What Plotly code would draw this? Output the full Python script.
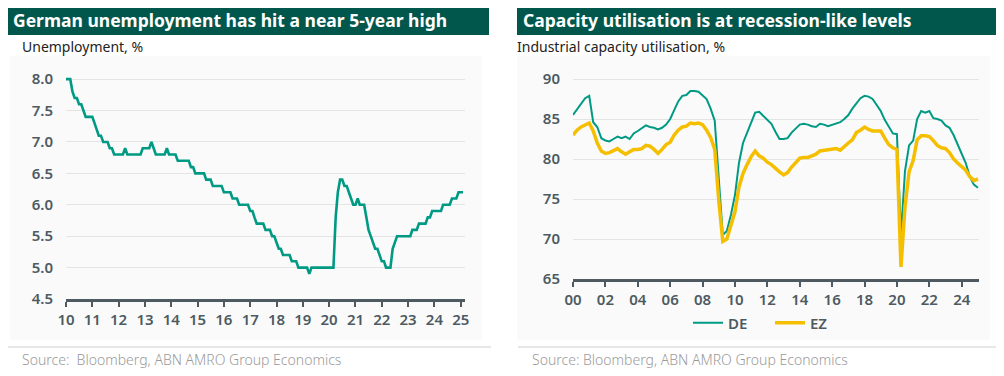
import pandas as pd
import plotly.graph_objects as go

# page body adds an 8px margin, so the figure is drawn 8px in from the window edge
OFF = 8
WIN_W, WIN_H = 1004, 376
W, H = WIN_W - OFF, WIN_H - OFF

# ---------------- data ----------------
unemp_2010 = [8.0, 8.0, 8.0, 7.8, 7.7, 7.7, 7.6, 7.6, 7.5, 7.4, 7.4, 7.4]
unemp_2011 = [7.4, 7.3, 7.2, 7.1, 7.1, 7.0, 7.0, 7.0, 6.9, 6.9, 6.8, 6.8]
unemp_2012 = [6.8, 6.8, 6.8, 6.9, 6.8, 6.8, 6.8, 6.8, 6.8, 6.8, 6.8, 6.9]
unemp_2013 = [6.9, 6.9, 6.9, 7.0, 6.9, 6.8, 6.8, 6.8, 6.8, 6.8, 6.9, 6.8]
unemp_2014 = [6.8, 6.8, 6.8, 6.7, 6.7, 6.7, 6.7, 6.7, 6.7, 6.6, 6.6, 6.5]
unemp_2015 = [6.5, 6.5, 6.5, 6.5, 6.4, 6.4, 6.4, 6.3, 6.3, 6.3, 6.3, 6.3]
unemp_2016 = [6.2, 6.2, 6.2, 6.2, 6.1, 6.1, 6.1, 6.0, 6.0, 6.0, 6.0, 6.0]
unemp_2017 = [5.9, 5.9, 5.8, 5.7, 5.7, 5.7, 5.7, 5.6, 5.6, 5.6, 5.5, 5.5]
unemp_2018 = [5.4, 5.3, 5.3, 5.2, 5.2, 5.2, 5.2, 5.1, 5.1, 5.1, 5.0, 5.0]
unemp_2019 = [5.0, 5.0, 5.0, 4.9, 5.0, 5.0, 5.0, 5.0, 5.0, 5.0, 5.0, 5.0]
unemp_2020 = [5.0, 5.0, 5.0, 5.8, 6.2, 6.4, 6.4, 6.3, 6.3, 6.2, 6.1, 6.0]
unemp_2021 = [6.0, 6.1, 6.0, 6.0, 6.0, 5.8, 5.6, 5.5, 5.4, 5.3, 5.3, 5.2]
unemp_2022 = [5.1, 5.1, 5.0, 5.0, 5.0, 5.3, 5.4, 5.5, 5.5, 5.5, 5.5, 5.5]
unemp_2023 = [5.5, 5.5, 5.6, 5.6, 5.6, 5.7, 5.7, 5.7, 5.7, 5.8, 5.8, 5.9]
unemp_2024 = [5.9, 5.9, 5.9, 5.9, 6.0, 6.0, 6.0, 6.0, 6.1, 6.1, 6.1, 6.2]
unemp_2025 = [6.2, 6.2]
unemployment = (unemp_2010 + unemp_2011 + unemp_2012 + unemp_2013 + unemp_2014 +
                unemp_2015 + unemp_2016 + unemp_2017 + unemp_2018 + unemp_2019 +
                unemp_2020 + unemp_2021 + unemp_2022 + unemp_2023 + unemp_2024 + unemp_2025)
unemp_dates = pd.date_range("2010-01-01", periods=len(unemployment), freq="MS")

de_util = [
    85.5, 86.2, 86.9, 87.6,  # 2000
    87.9, 84.6, 84.0, 82.6,  # 2001
    82.3, 82.2, 82.5, 82.8,  # 2002
    82.6, 82.8, 82.5, 83.2,  # 2003
    83.5, 83.8, 84.2, 84.0,  # 2004
    83.9, 83.7, 83.9, 84.3,  # 2005
    85.0, 86.1, 87.2, 87.9,  # 2006
    88.0, 88.5, 88.5, 88.4,  # 2007
    88.0, 87.5, 86.3, 84.8,  # 2008
    77.5, 70.5, 71.0, 73.0,  # 2009
    75.5, 79.5, 82.0, 83.3,  # 2010
    84.5, 85.8, 85.9, 85.4,  # 2011
    85.0, 84.4, 83.4, 82.5,  # 2012
    82.5, 82.6, 83.3, 83.8,  # 2013
    84.3, 84.4, 84.3, 84.1,  # 2014
    84.0, 84.4, 84.3, 84.1,  # 2015
    84.3, 84.4, 84.6, 85.0,  # 2016
    85.5, 86.3, 87.0, 87.6,  # 2017
    87.9, 87.8, 87.5, 86.8,  # 2018
    86.0, 84.9, 84.0, 83.2,  # 2019
    83.1, 70.5, 78.5, 81.7,  # 2020
    82.3, 85.0, 86.0, 85.8,  # 2021
    86.0, 85.1, 85.0, 84.8,  # 2022
    84.2, 83.9, 83.0, 81.8,  # 2023
    80.8, 79.5, 77.8, 76.8,  # 2024
    76.4,                    # 2025
]
ez_util = [
    83.0, 83.6, 84.0, 84.2,
    84.5, 83.5, 82.0, 81.0,
    80.7, 80.8, 81.1, 81.3,
    80.9, 80.6, 80.9, 81.2,
    81.2, 81.3, 81.7, 81.6,
    81.2, 80.7, 81.2, 81.8,
    82.1, 83.0, 83.6, 84.0,
    84.1, 84.5, 84.4, 84.5,
    84.3, 83.6, 82.7, 81.2,
    74.8, 69.7, 70.0, 71.8,
    73.4, 76.5, 78.2, 79.3,
    80.3, 81.0, 80.4, 80.1,
    79.6, 79.3, 78.8, 78.4,
    78.0, 78.3, 79.0, 79.5,
    80.1, 80.2, 80.2, 80.4,
    80.6, 81.0, 81.1, 81.1,
    81.2, 81.3, 81.1, 81.6,
    82.0, 82.4, 83.3, 83.6,
    84.0, 83.7, 83.5, 83.5,
    83.5, 82.6, 81.8, 81.4,
    81.2, 66.5, 74.0, 78.4,
    79.8, 82.4, 82.9, 82.9,
    82.8, 82.3, 81.7, 81.4,
    81.3, 80.8, 80.0, 79.5,
    79.0, 78.6, 77.8, 77.3,
    77.5,
]
util_dates = pd.date_range("2000-01-01", periods=len(de_util), freq="QS")

left_years = list(range(2010, 2026))
left_ticktext = [f"{y % 100:02d}" for y in left_years]
right_years = list(range(2000, 2025, 2))
right_ticktext = [f"{y % 100:02d}" for y in right_years]
left_yticks = [4.5, 5.0, 5.5, 6.0, 6.5, 7.0, 7.5, 8.0]
right_yticks = [65, 70, 75, 80, 85, 90]

title_left = "German unemployment has hit a near 5-year high"
title_right = "Capacity utilisation is at recession-like levels"
sub_left = "Unemployment, %"
sub_right = "Industrial capacity utilisation, %"
source_left = "Source:  Bloomberg, ABN AMRO Group Economics"
source_right = "Source: Bloomberg, ABN AMRO Group Economics"

# ---------------- style ----------------
TEAL = "#009a84"
GOLD = "#f5bf00"
BAR = "#02574d"
AX = "#4d5a62"
GRID = "#e4e4e4"
FONT = "Noto Sans"


def px(x):
    return (x - OFF) / W


def py(y):
    return 1 - (y - OFF) / H


fig = go.Figure()
fig.add_trace(go.Scatter(x=unemp_dates, y=unemployment, mode="lines",
                         line=dict(color=TEAL, width=2.6), showlegend=False,
                         xaxis="x", yaxis="y"))
fig.add_trace(go.Scatter(x=util_dates, y=de_util, mode="lines", name="DE",
                         line=dict(color=TEAL, width=2), xaxis="x2", yaxis="y2"))
fig.add_trace(go.Scatter(x=util_dates, y=ez_util, mode="lines", name="EZ",
                         line=dict(color=GOLD, width=3.5), xaxis="x2", yaxis="y2"))

tickfont = dict(family=FONT, size=15, color=AX, weight=600)

xcommon = dict(type="date", showgrid=False, zeroline=False, showline=True,
               linecolor=AX, linewidth=2.5, ticks="outside", ticklen=5,
               tickwidth=2, tickcolor=AX, tickfont=tickfont, automargin=False)
ycommon = dict(showgrid=True, gridcolor=GRID, gridwidth=1, zeroline=False,
               showline=False, ticks="", tickfont=tickfont, ticklabelstandoff=12,
               automargin=False)

fig.update_layout(
    width=W, height=H, autosize=False,
    margin=dict(l=0, r=0, t=0, b=0, pad=0, autoexpand=False),
    paper_bgcolor="white", plot_bgcolor="rgba(0,0,0,0)",
    xaxis=dict(xcommon, domain=[px(66), px(465)], anchor="y",
               range=["2010-01-01", "2025-03-01"],
               tickvals=[f"{y}-01-01" for y in left_years], ticktext=left_ticktext),
    yaxis=dict(ycommon, domain=[py(299), py(76)], anchor="x",
               range=[4.5, 8.05], tickvals=left_yticks,
               ticktext=[f"{v:.1f}" for v in left_yticks]),
    xaxis2=dict(xcommon, domain=[px(573), px(979)], anchor="y2",
                range=["2000-01-01", "2025-01-25"],
                tickvals=[f"{y}-01-01" for y in right_years], ticktext=right_ticktext),
    yaxis2=dict(ycommon, domain=[py(279), py(75)], anchor="x2",
                range=[65, 90.5], tickvals=right_yticks),
    legend=dict(orientation="h", x=px(688), y=py(323), xanchor="left", yanchor="middle",
                font=dict(family=FONT, size=15, color=AX, weight=600),
                itemwidth=30, entrywidth=37, entrywidthmode="pixels",
                bgcolor="rgba(0,0,0,0)", traceorder="normal", tracegroupgap=0),
    showlegend=True,
)

shapes = []
# panel backgrounds
shapes.append(dict(type="rect", xref="paper", yref="paper", x0=px(10), x1=px(482),
                   y0=py(340), y1=py(56), fillcolor="#fafafa", line_width=0, layer="below"))
shapes.append(dict(type="rect", xref="paper", yref="paper", x0=px(517), x1=px(990),
                   y0=py(340), y1=py(56), fillcolor="#fafafa", line_width=0, layer="below"))
# title bars
shapes.append(dict(type="rect", xref="paper", yref="paper", x0=px(7), x1=px(489),
                   y0=py(35), y1=py(6), fillcolor=BAR, line_width=0, layer="below"))
shapes.append(dict(type="rect", xref="paper", yref="paper", x0=px(517), x1=px(998),
                   y0=py(35), y1=py(6), fillcolor=BAR, line_width=0, layer="below"))
# source separators
shapes.append(dict(type="line", xref="paper", yref="paper", x0=px(7), x1=px(491),
                   y0=py(347), y1=py(347), line=dict(color="#cfcfcf", width=1)))
shapes.append(dict(type="line", xref="paper", yref="paper", x0=px(518), x1=px(1001),
                   y0=py(347), y1=py(347), line=dict(color="#cfcfcf", width=1)))
fig.update_layout(shapes=shapes)

ann = []
ann.append(dict(text=title_left, x=px(11), y=py(20.5), xref="paper", yref="paper",
                xanchor="left", yanchor="middle", showarrow=False,
                font=dict(family=FONT, size=17.5, color="white", weight=700)))
ann.append(dict(text=title_right, x=px(521), y=py(20.5), xref="paper", yref="paper",
                xanchor="left", yanchor="middle", showarrow=False,
                font=dict(family=FONT, size=17.5, color="white", weight=700)))
ann.append(dict(text=sub_left, x=px(20), y=py(46), xref="paper", yref="paper",
                xanchor="left", yanchor="middle", showarrow=False,
                font=dict(family=FONT, size=14, color="#222222")))
ann.append(dict(text=sub_right, x=px(515), y=py(46), xref="paper", yref="paper",
                xanchor="left", yanchor="middle", showarrow=False,
                font=dict(family=FONT, size=14, color="#222222")))
ann.append(dict(text=source_left, x=px(20), y=py(359), xref="paper", yref="paper",
                xanchor="left", yanchor="middle", showarrow=False,
                font=dict(family=FONT, size=14, color="#9a9a9a", weight=300)))
ann.append(dict(text=source_right, x=px(530), y=py(359), xref="paper", yref="paper",
                xanchor="left", yanchor="middle", showarrow=False,
                font=dict(family=FONT, size=14, color="#9a9a9a", weight=300)))
fig.update_layout(annotations=ann)

fig.write_html("out.html")
